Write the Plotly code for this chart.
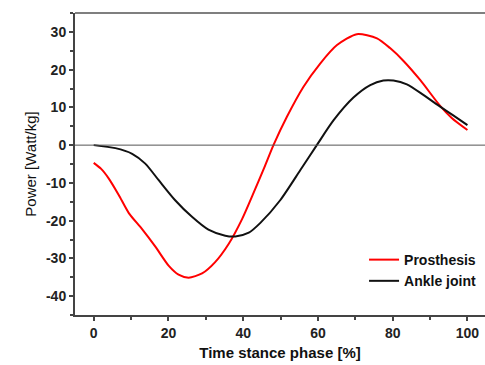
import plotly.graph_objects as go

prosthesis_x = [0, 2.0, 4.0, 6.7, 9.4, 12.9, 16.5, 20.1, 22.7, 25.4, 29.0, 32.5, 36.1, 39.7, 42.8, 45.5, 48.1, 51.7, 56.1, 60.6, 65.1, 70.4, 75.8, 79.3, 82.9, 87.4, 92.7, 95.8, 100]
prosthesis_y = [-4.7, -6.3, -8.8, -13.2, -18.0, -22.2, -26.9, -32.0, -34.3, -35.1, -34.0, -31.0, -26.2, -19.6, -12.6, -6.3, 0, 7.5, 15.4, 21.6, 26.5, 29.4, 28.3, 25.7, 22.3, 17.2, 10.4, 7.2, 4.0]

ankle_x = [0, 5.8, 10.3, 13.8, 17.4, 21.8, 26.3, 30.7, 35.2, 37.9, 41.5, 44.6, 49.9, 55.3, 59.7, 64.2, 69.5, 74.0, 77.5, 80.2, 83.8, 88.2, 92.7, 96.3, 100]
ankle_y = [0, -0.8, -2.3, -4.9, -9.3, -14.6, -19.0, -22.4, -24.0, -24.2, -23.2, -20.6, -14.6, -6.6, 0, 6.6, 12.6, 15.9, 17.1, 17.1, 16.1, 13.3, 10.2, 7.8, 5.3]

x_ticks = [0, 20, 40, 60, 80, 100]
y_ticks = [-40, -30, -20, -10, 0, 10, 20, 30]

fig = go.Figure()
fig.add_trace(go.Scatter(x=prosthesis_x, y=prosthesis_y, mode="lines", name="<b>Prosthesis</b>",
                         line=dict(color="#ff0000", width=2, shape="spline", smoothing=0.7)))
fig.add_trace(go.Scatter(x=ankle_x, y=ankle_y, mode="lines", name="<b>Ankle joint</b>",
                         line=dict(color="#111111", width=2, shape="spline", smoothing=0.7)))

fig.add_hline(y=0, line=dict(color="#555555", width=1))
fig.add_shape(type="line", xref="paper", yref="paper", x0=0, x1=1, y0=1, y1=1,
              line=dict(color="#555555", width=1.5))

tickfont = dict(family="Liberation Sans, Arial", size=14, color="#222222")
fig.update_xaxes(range=[-5, 104.7], tickvals=x_ticks, ticktext=[f"<b>{v}</b>" for v in x_ticks],
                 showgrid=False, zeroline=False, showline=True, linecolor="#444444", linewidth=2,
                 ticks="outside", ticklen=4, tickwidth=1.5, tickcolor="#444444", tickfont=tickfont,
                 minor=dict(dtick=10, tick0=0, ticks="outside", ticklen=3, tickcolor="#444444"),
                 title=dict(text="<b>Time stance phase [%]</b>", font=dict(family="Liberation Sans, Arial", size=15, color="#111111"), standoff=8))
fig.update_yaxes(range=[-45, 35], tickvals=y_ticks, ticktext=[f"<b>{v}</b>" for v in y_ticks],
                 showgrid=False, zeroline=False, showline=True, linecolor="#444444", linewidth=2,
                 ticks="outside", ticklen=4, tickwidth=1.5, tickcolor="#444444", tickfont=tickfont,
                 minor=dict(dtick=5, tick0=0, ticks="outside", ticklen=3, tickcolor="#444444"),
                 title=dict(text="Power [Watt/kg]", font=dict(family="Liberation Sans, Arial", size=15, color="#111111"), standoff=6))

fig.update_layout(
    width=485, height=365,
    margin=dict(l=75, r=0, t=13, b=50),
    plot_bgcolor="white", paper_bgcolor="white",
    legend=dict(x=0.705, y=0.235, xanchor="left", yanchor="top", bgcolor="rgba(0,0,0,0)",
                font=dict(family="Liberation Sans, Arial", size=14, color="#111111"),
                itemwidth=30, tracegroupgap=0),
    showlegend=True,
)

fig.write_html("out.html")
